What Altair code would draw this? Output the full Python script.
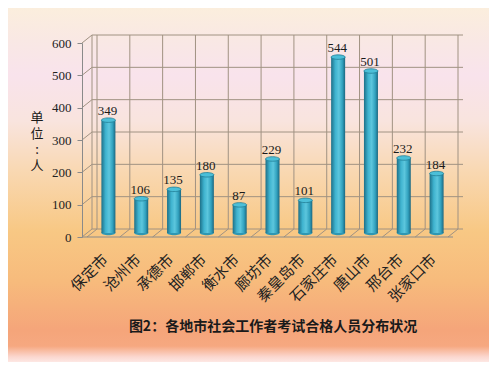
import altair as alt
import pandas as pd

cities = ["保定市", "沧州市", "承德市", "邯郸市", "衡水市", "廊坊市", "秦皇岛市", "石家庄市", "唐山市", "邢台市", "张家口市"]
values = [349, 106, 135, 180, 87, 229, 101, 544, 501, 232, 184]
y_ticks = [0, 100, 200, 300, 400, 500, 600]
title_text = "图2：各地市社会工作者考试合格人员分布状况"
unit_chars = ["单", "位", ":", "人"]

W, H = 371, 194
PL, PT, PR, PB = 74, 35, 36, 125
DX, DY = 10, -8

df = pd.DataFrame({
    "city": cities, "value": values,
    "pos": [i + 0.5 for i in range(len(cities))],
    "zero": [0] * len(cities),
})
bounds = pd.DataFrame({"b": list(range(len(cities) + 1))})
ticks = pd.DataFrame({"t": y_ticks})
one = pd.DataFrame({"a": [0]})

xs = alt.Scale(domain=[0, len(cities)], nice=False, zero=False)
ys = alt.Scale(domain=[0, 600], nice=False)
grid_col = "#a09282"
font_cjk = "Noto Sans CJK SC"
font_num = "Liberation Serif"

yaxis = alt.Axis(
    values=y_ticks, title=None, grid=False, domainColor="#8a8a8a", tickColor="#8a8a8a",
    tickSize=5, labelPadding=6, labelFont=font_num, labelFontSize=13, labelColor="#222222",
    zindex=1,
)

bg = alt.Chart(one).mark_rect(
    color=alt.Gradient(
        gradient="linear", x1=0, x2=0, y1=0, y2=1,
        stops=[
            alt.GradientStop(offset=0.0, color="#fbeedd"),
            alt.GradientStop(offset=0.09, color="#f9e8e4"),
            alt.GradientStop(offset=0.19, color="#f9e3ec"),
            alt.GradientStop(offset=0.32, color="#f9e4de"),
            alt.GradientStop(offset=0.46, color="#f9d8b2"),
            alt.GradientStop(offset=0.63, color="#f8c884"),
            alt.GradientStop(offset=0.77, color="#f7bb7c"),
            alt.GradientStop(offset=0.91, color="#f5a57a"),
            alt.GradientStop(offset=0.955, color="#f6a880"),
            alt.GradientStop(offset=0.985, color="#fbd6ce"),
            alt.GradientStop(offset=1.0, color="#fde8e4"),
        ],
    )
).encode(x=alt.value(-PL), x2=alt.value(W + PR), y=alt.value(-PT), y2=alt.value(H + PB))

axis_layer = alt.Chart(ticks).mark_point(opacity=0).encode(
    y=alt.Y("t:Q", scale=ys, axis=yaxis)
)

back_h = alt.Chart(ticks).mark_rule(color=grid_col, strokeWidth=1, xOffset=DX, x2Offset=DX, yOffset=DY).encode(
    y=alt.Y("t:Q", scale=ys, axis=yaxis), x=alt.value(0), x2=alt.value(W)
)
left_d = alt.Chart(ticks).mark_rule(color=grid_col, strokeWidth=1, x2Offset=DX, y2Offset=DY).encode(
    y=alt.Y("t:Q", scale=ys, axis=yaxis), y2=alt.Y2("t"), x=alt.value(0), x2=alt.value(0)
)
back_v = alt.Chart(bounds).mark_rule(color=grid_col, strokeWidth=1, xOffset=DX, yOffset=DY, y2Offset=DY).encode(
    x=alt.X("b:Q", scale=xs, axis=None), y=alt.value(0), y2=alt.value(H)
)
floor_d = alt.Chart(bounds).mark_rule(color=grid_col, strokeWidth=1, x2Offset=DX, y2Offset=DY).encode(
    x=alt.X("b:Q", scale=xs, axis=None), x2=alt.X2("b"), y=alt.value(H), y2=alt.value(H)
)
left_back = alt.Chart(one).mark_rule(color=grid_col, strokeWidth=1, xOffset=DX, yOffset=DY, y2Offset=DY).encode(
    x=alt.value(0), y=alt.value(0), y2=alt.value(H)
)
front = alt.Chart(one).mark_rule(color="#8a8a8a", strokeWidth=1).encode(
    x=alt.value(0), x2=alt.value(W), y=alt.value(H)
)

bar_grad = alt.Gradient(
    gradient="linear", x1=0, x2=1, y1=0, y2=0,
    stops=[
        alt.GradientStop(offset=0.0, color="#1d7088"),
        alt.GradientStop(offset=0.3, color="#3fb3cf"),
        alt.GradientStop(offset=0.55, color="#5cc6dd"),
        alt.GradientStop(offset=0.8, color="#32a2bf"),
        alt.GradientStop(offset=1.0, color="#1b6780"),
    ],
)

bars = alt.Chart(df).mark_bar(size=14, color=bar_grad, xOffset=5, yOffset=-4).encode(
    x=alt.X("pos:Q", scale=xs, axis=None), y=alt.Y("value:Q", scale=ys, axis=yaxis)
)

ellipse = ("M -1 0 C -1 -0.177 -0.552 -0.32 0 -0.32 C 0.552 -0.32 1 -0.177 1 0 "
           "C 1 0.177 0.552 0.32 0 0.32 C -0.552 0.32 -1 0.177 -1 0 Z")
bottoms = alt.Chart(df).mark_point(shape=ellipse, size=196, filled=True, color="#2f97b3", opacity=1, xOffset=5, yOffset=-4).encode(
    x=alt.X("pos:Q", scale=xs, axis=None), y=alt.Y("zero:Q", scale=ys, axis=yaxis)
)
tops = alt.Chart(df).mark_point(shape=ellipse, size=196, filled=True, color="#4cbfd8", stroke="#227d96", strokeWidth=0.8, opacity=1, xOffset=5, yOffset=-4).encode(
    x=alt.X("pos:Q", scale=xs, axis=None), y=alt.Y("value:Q", scale=ys, axis=yaxis)
)

vlabels = alt.Chart(df).mark_text(font=font_num, fontSize=13, color="#1a1a1a", baseline="bottom", xOffset=4, yOffset=-6).encode(
    x=alt.X("pos:Q", scale=xs, axis=None), y=alt.Y("value:Q", scale=ys, axis=yaxis), text="value:Q"
)

clabels = alt.Chart(df).mark_text(font=font_cjk, fontSize=15, color="#222222", angle=315, align="right", baseline="middle", xOffset=2).encode(
    x=alt.X("pos:Q", scale=xs, axis=None), y=alt.value(H + 20), text="city:N"
)

title = alt.Chart(one).mark_text(text=title_text, font=font_cjk, fontSize=14, fontWeight="bold", color="#1a1a1a", align="center", baseline="middle").encode(
    x=alt.value(191), y=alt.value(284)
)

unit_layers = [
    alt.Chart(one).mark_text(text=ch, font=font_cjk, fontSize=13, color="#1a1a1a", align="center", baseline="middle").encode(
        x=alt.value(-45), y=alt.value(75 + 16 * k)
    )
    for k, ch in enumerate(unit_chars)
]

chart = alt.layer(
    bg, axis_layer, back_h, left_d, back_v, floor_d, left_back, front, bottoms, bars, tops, vlabels, clabels, title, *unit_layers
).properties(
    width=W, height=H,
    autosize=alt.AutoSizeParams(type="none"),
    padding={"left": PL, "top": PT, "right": PR, "bottom": PB},
).configure(background="#fbeedd").configure_view(stroke=None)

chart.save("out.html", embed_options={"renderer": "svg", "actions": False})
